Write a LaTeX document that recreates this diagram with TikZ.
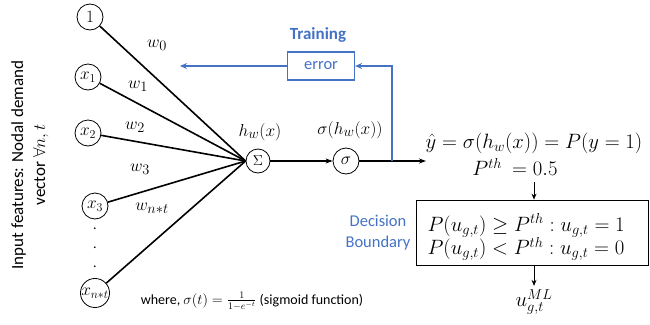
\documentclass[tikz,border=0pt]{standalone}
\usepackage{fontspec}
\setmainfont{Carlito}
\usetikzlibrary{arrows.meta}
\definecolor{ob}{RGB}{68,114,196}
\begin{document}
\begin{tikzpicture}[x=1pt,y=-1pt,
  neuron/.style={circle,draw,line width=0.8pt,minimum size=26pt,inner sep=0pt,font=\fontsize{17}{17}\selectfont},
  wire/.style={line width=1.6pt},
  fbwire/.style={line width=1.6pt,draw=ob},
  wlabel/.style={font=\fontsize{19}{19}\selectfont},
  eq/.style={font=\fontsize{19.5}{23}\selectfont},
  bluetext/.style={text=ob,font=\fontsize{16.5}{21}\selectfont},
  dotlabel/.style={font=\fontsize{14}{14}\selectfont,inner sep=0pt}]
\useasboundingbox (0,0) rectangle (650,324);

% input neurons
\node[neuron] (i0) at (90,17) {$1$};
\node[neuron] (i1) at (88,77) {$x_1$};
\node[neuron] (i2) at (88,133) {$x_2$};
\node[neuron] (i3) at (95,206) {$x_3$};
\node[neuron] (in) at (95,293) {$x_{n*t}$};
\node[dotlabel] (d1) at (95,229) {.};
\node[dotlabel] (d2) at (95,248) {.};
\node[dotlabel] (d3) at (95,267) {.};

% sum and sigmoid
\node[neuron,minimum size=24pt,font=\fontsize{14}{14}\selectfont] (sum) at (258,161) {$\Sigma$};
\node[neuron] (sig) at (346,161) {$\sigma$};

\foreach \n in {i0,i1,i2,i3,in}
  \draw[wire] (\n) -- (sum.west);

\node[wlabel] (w0) at (157,45) {$w_0$};
\node[wlabel] (w1) at (138,86) {$w_1$};
\node[wlabel] (w2) at (135,127) {$w_2$};
\node[wlabel] (w3) at (140,169) {$w_3$};
\node[wlabel] (wn) at (152,208) {$w_{n*t}$};

\node[wlabel] (hw) at (260,132) {$h_w(x)$};
\node[wlabel] (shw) at (350,130) {$\sigma(h_w(x))$};

\coordinate (fb) at (392,161);
\coordinate (out) at (426,161);
\draw[wire,-{Stealth[length=7pt,width=5pt]}] (sum) -- (sig);
\draw[wire,-{Stealth[length=7pt,width=5pt]}] (sig) -- (out);

% training feedback
\node[draw=ob,line width=1.2pt,minimum width=67pt,minimum height=28pt,inner sep=0pt,bluetext] (err) at (321,66) {error};
\node[text=ob,font=\bfseries\fontsize{17}{17}\selectfont] (train) at (318,35) {Training};
\coordinate (fbt) at (392,66);
\coordinate (fbend) at (180,66);
\draw[fbwire,-{Stealth[length=7pt,width=6pt]}] (fb) -- (fbt) -- (err.east);
\draw[fbwire,-{Stealth[length=7pt,width=6pt]}] (err.west) -- (fbend);

% right side
\node[eq] (yhat) at (534,143) {$\hat y = \sigma(h_w(x)) = P(y=1)$};
\node[eq] (pth) at (515,167) {$P^{th}\ = 0.5$};
\node[draw,line width=0.8pt,minimum width=232pt,minimum height=65pt,inner sep=0pt] (box) at (532,232.5) {};
\node[eq,anchor=west,align=left] (rules) at (424,237) {$P\bigl(u_{g,t}\bigr) \geq P^{th}: u_{g,t} = 1$\\[-1pt]$P\bigl(u_{g,t}\bigr) < P^{th}: u_{g,t} = 0$};
\node[font=\fontsize{22}{22}\selectfont] (uml) at (534,302) {$u_{g,t}^{ML}$};
\coordinate (a1) at (534,182);
\draw[line width=0.8pt,-{Stealth[length=6pt,width=5pt]}] (a1) -- (a1 |- box.north);
\draw[line width=0.8pt,-{Stealth[length=6pt,width=5pt]}] (a1 |- box.south) -- (a1 |- uml.north);

\node[bluetext,align=center] (db) at (378,233) {Decision\\Boundary};

\node[font=\fontsize{14}{14}\selectfont] (where) at (252,301) {where, $\sigma(t) = \frac{1}{1-e^{-t}}$ (sigmoid function)};

\node[rotate=90,align=center,font=\fontsize{17}{22}\selectfont] (feat) at (30,165) {Input features: Nodal demand\\vector $\forall n, t$};
\end{tikzpicture}
\end{document}
